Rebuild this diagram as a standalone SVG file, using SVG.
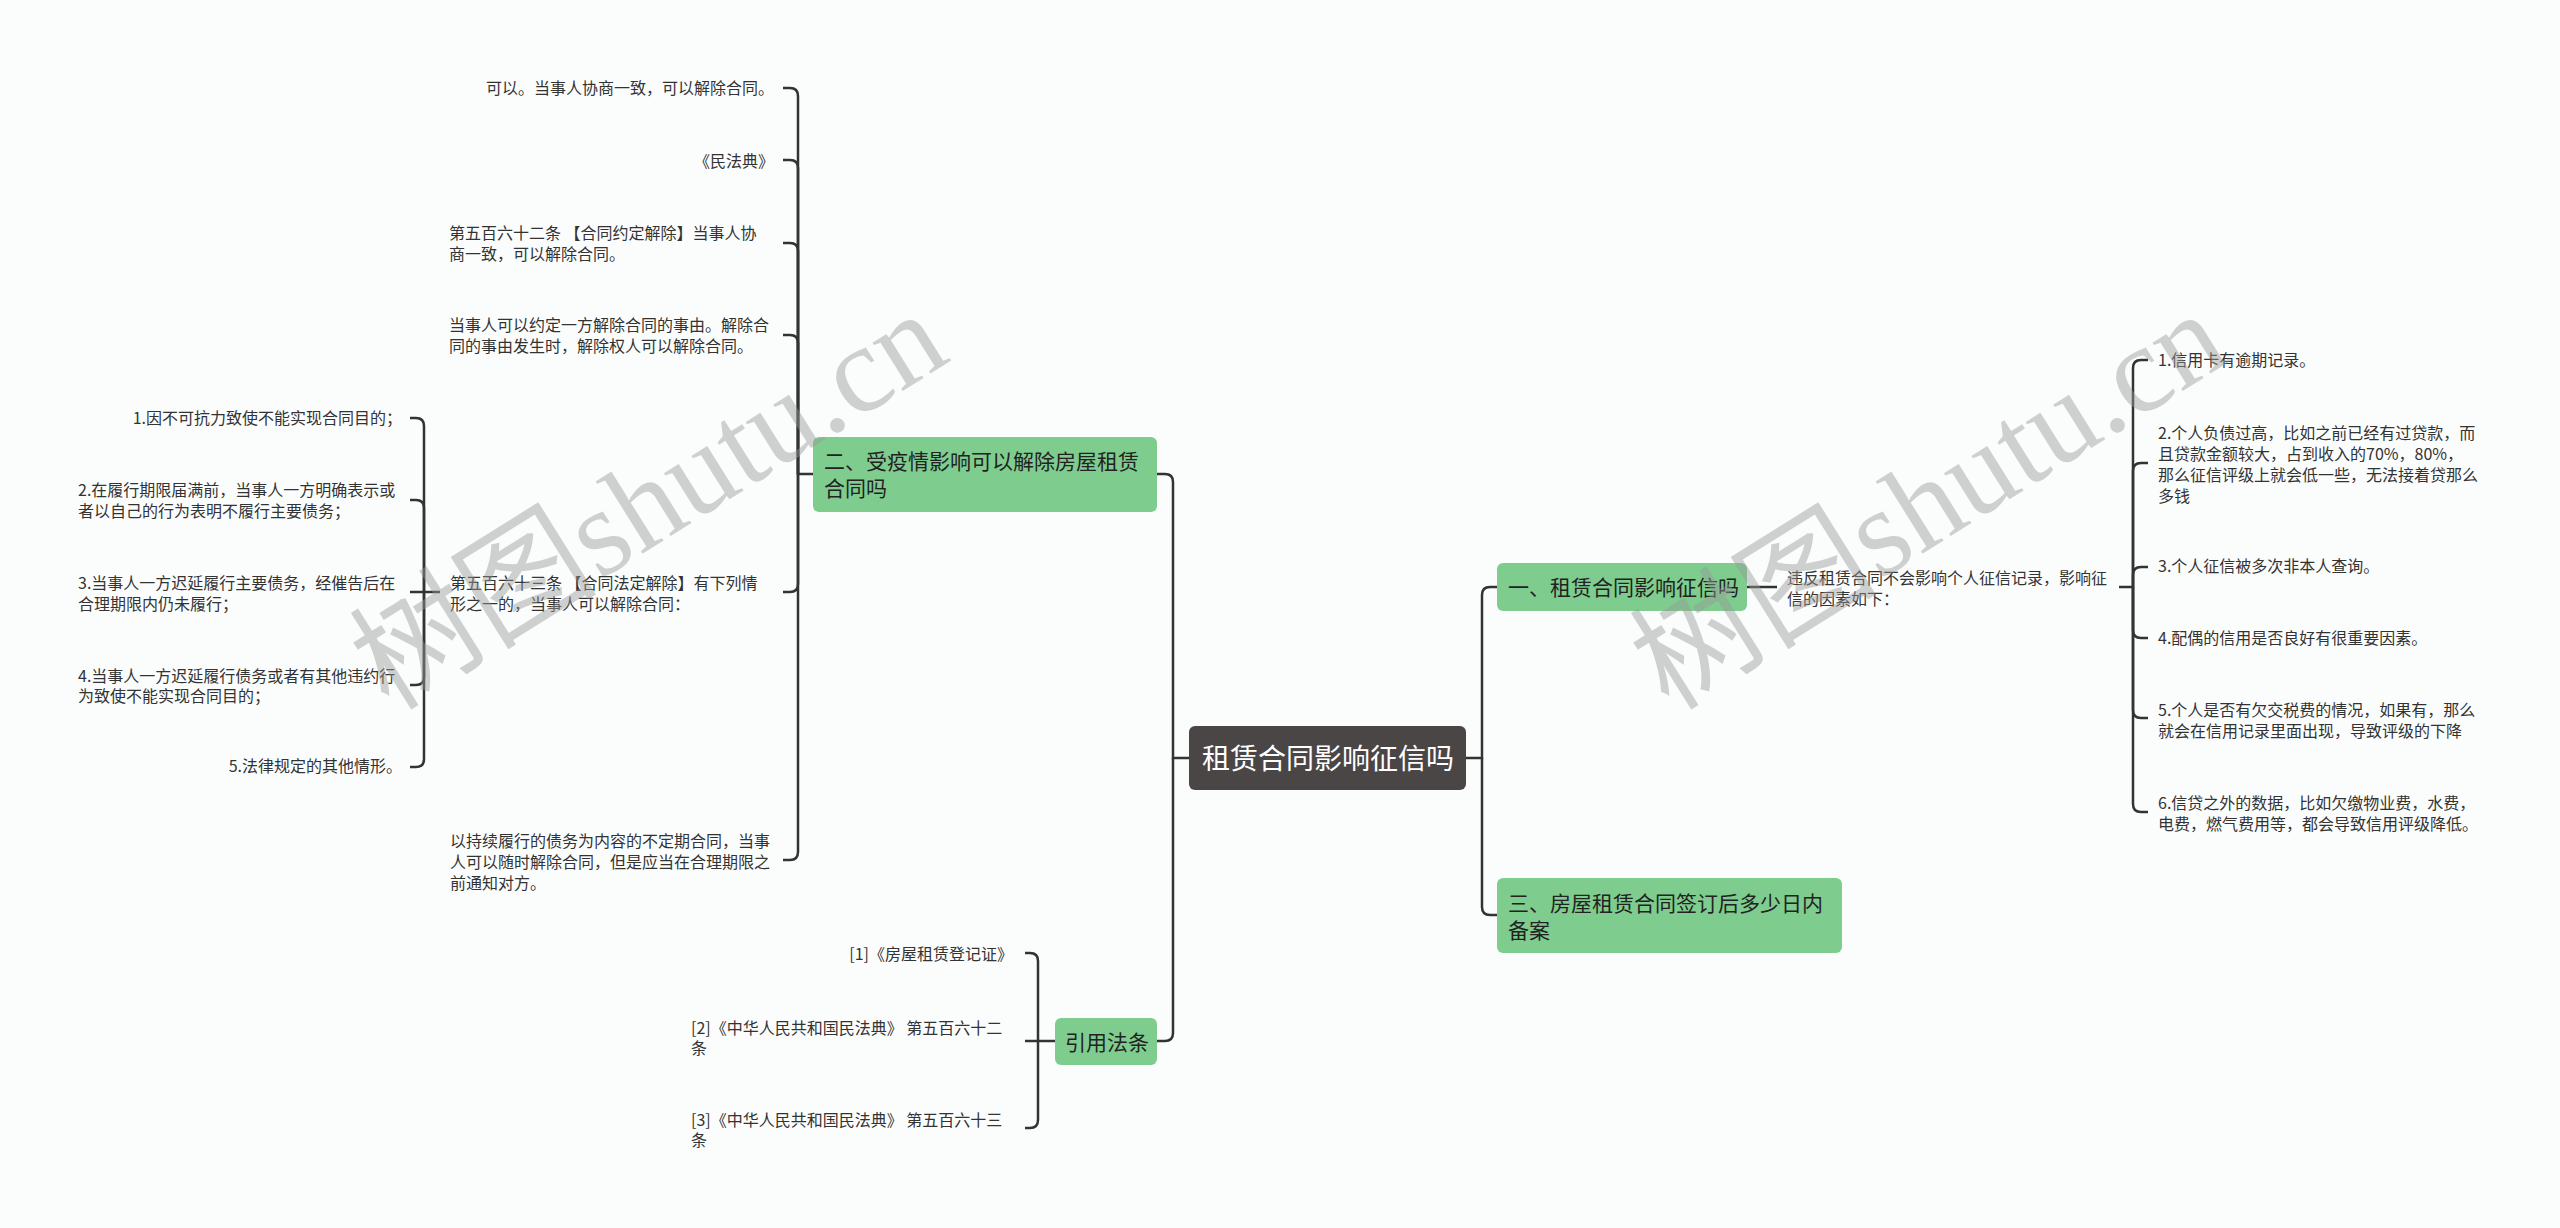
<svg xmlns="http://www.w3.org/2000/svg" width="2560" height="1228" viewBox="0 0 2560 1228">
<style>
.t{font-family:"Noto Sans CJK SC","Noto Sans",sans-serif;font-size:16px;fill:#333}
.n{font-family:"Noto Sans CJK SC","Noto Sans",sans-serif;font-size:21px;fill:#222}
.c{font-family:"Noto Sans CJK SC","Noto Sans",sans-serif;font-size:28px;fill:#fff}
.g{fill:#7ecd8f}
.e{text-anchor:end}
.wm{font-family:"Liberation Serif","Noto Sans CJK SC",serif;font-size:124px;fill:#999;opacity:.45}
#links path{fill:none;stroke:#333;stroke-width:2.5}
</style>
<rect width="2560" height="1228" fill="#fbfdfd"/>
<g id="links">
<path d="M1189 758H1173V482Q1173 474 1165 474H1157"/>
<path d="M1173 758V1033Q1173 1041 1165 1041H1157"/>
<path d="M1466 758H1482V595Q1482 587 1490 587H1497"/>
<path d="M1482 758V907Q1482 915 1490 915H1497"/>
<path d="M1747 587H1777"/>
<path d="M2119 587H2133V368Q2133 360 2141 360H2148"/>
<path d="M2133 587V471Q2133 463 2141 463H2148"/>
<path d="M2133 587V575Q2133 567 2141 567H2148"/>
<path d="M2133 587V630Q2133 638 2141 638H2148"/>
<path d="M2133 587V710Q2133 718 2141 718H2148"/>
<path d="M2133 587V804Q2133 812 2141 812H2148"/>
<path d="M813 474H798V96Q798 88 790 88H783"/>
<path d="M798 474V168Q798 160 790 160H783"/>
<path d="M798 474V251Q798 243 790 243H783"/>
<path d="M798 474V343Q798 335 790 335H783"/>
<path d="M798 474V584Q798 592 790 592H783"/>
<path d="M798 474V852Q798 860 790 860H783"/>
<path d="M440 592H410"/>
<path d="M424 592V426Q424 418 416 418H410"/>
<path d="M424 592V508Q424 500 416 500H410"/>
<path d="M424 592V677Q424 685 416 685H410"/>
<path d="M424 592V759Q424 767 416 767H410"/>
<path d="M1055 1041H1025"/>
<path d="M1038 1041V961Q1038 953 1030 953H1025"/>
<path d="M1038 1041V1120Q1038 1128 1030 1128H1025"/>
</g>
<g id="root">
<rect x="1189" y="726" width="277" height="64" rx="6" fill="#4b4646"/>
<text class="c" x="1202" y="769">租赁合同影响征信吗</text>
</g>
<g id="n2">
<rect class="g" x="813" y="437" width="344" height="75" rx="6"/>
<text class="n"><tspan x="824" y="469">二、受疫情影响可以解除房屋租赁</tspan><tspan x="824" y="496">合同吗</tspan></text>
</g>
<g id="n1">
<rect class="g" x="1497" y="563" width="250" height="48" rx="6"/>
<text class="n" x="1508" y="595">一、租赁合同影响征信吗</text>
</g>
<g id="n3">
<rect class="g" x="1497" y="878" width="345" height="75" rx="6"/>
<text class="n"><tspan x="1508" y="911">三、房屋租赁合同签订后多少日内</tspan><tspan x="1508" y="938">备案</tspan></text>
</g>
<g id="nref">
<rect class="g" x="1055" y="1018" width="102" height="47" rx="6"/>
<text class="n" x="1065" y="1050">引用法条</text>
</g>
<g id="n1a">
<text class="t"><tspan x="1787" y="584">违反租赁合同不会影响个人征信记录，影响征</tspan><tspan x="1787" y="605">信的因素如下：</tspan></text>
</g>
<g id="r1"><text class="t" x="2158" y="366">1.信用卡有逾期记录。</text></g>
<g id="r2"><text class="t"><tspan x="2158" y="439">2.个人负债过高，比如之前已经有过贷款，而</tspan><tspan x="2158" y="460">且贷款金额较大，占到收入的70%，80%，</tspan><tspan x="2158" y="481">那么征信评级上就会低一些，无法接着贷那么</tspan><tspan x="2158" y="502">多钱</tspan></text></g>
<g id="r3"><text class="t" x="2158" y="572">3.个人征信被多次非本人查询。</text></g>
<g id="r4"><text class="t" x="2158" y="644">4.配偶的信用是否良好有很重要因素。</text></g>
<g id="r5"><text class="t"><tspan x="2158" y="716">5.个人是否有欠交税费的情况，如果有，那么</tspan><tspan x="2158" y="737">就会在信用记录里面出现，导致评级的下降</tspan></text></g>
<g id="r6"><text class="t"><tspan x="2158" y="809">6.信贷之外的数据，比如欠缴物业费，水费，</tspan><tspan x="2158" y="830">电费，燃气费用等，都会导致信用评级降低。</tspan></text></g>
<g id="l1"><text class="t e" x="774" y="94">可以。当事人协商一致，可以解除合同。</text></g>
<g id="l2"><text class="t e" x="774" y="167">《民法典》</text></g>
<g id="l3"><text class="t"><tspan x="449" y="239">第五百六十二条 【合同约定解除】当事人协</tspan><tspan x="449" y="260">商一致，可以解除合同。</tspan></text></g>
<g id="l4"><text class="t"><tspan x="449" y="331">当事人可以约定一方解除合同的事由。解除合</tspan><tspan x="449" y="352">同的事由发生时，解除权人可以解除合同。</tspan></text></g>
<g id="l5"><text class="t"><tspan x="450" y="589">第五百六十三条 【合同法定解除】有下列情</tspan><tspan x="450" y="610">形之一的，当事人可以解除合同：</tspan></text></g>
<g id="l6"><text class="t"><tspan x="450" y="847">以持续履行的债务为内容的不定期合同，当事</tspan><tspan x="450" y="868">人可以随时解除合同，但是应当在合理期限之</tspan><tspan x="450" y="889">前通知对方。</tspan></text></g>
<g id="k1"><text class="t e" x="402" y="424">1.因不可抗力致使不能实现合同目的；</text></g>
<g id="k2"><text class="t"><tspan x="78" y="496">2.在履行期限届满前，当事人一方明确表示或</tspan><tspan x="78" y="517">者以自己的行为表明不履行主要债务；</tspan></text></g>
<g id="k3"><text class="t"><tspan x="78" y="589">3.当事人一方迟延履行主要债务，经催告后在</tspan><tspan x="78" y="610">合理期限内仍未履行；</tspan></text></g>
<g id="k4"><text class="t"><tspan x="78" y="682">4.当事人一方迟延履行债务或者有其他违约行</tspan><tspan x="78" y="702">为致使不能实现合同目的；</tspan></text></g>
<g id="k5"><text class="t e" x="402" y="772">5.法律规定的其他情形。</text></g>
<g id="f1"><text class="t e" x="1013" y="960">[1]《房屋租赁登记证》</text></g>
<g id="f2"><text class="t"><tspan x="691" y="1034">[2]《中华人民共和国民法典》 第五百六十二</tspan><tspan x="691" y="1054">条</tspan></text></g>
<g id="f3"><text class="t"><tspan x="691" y="1126">[3]《中华人民共和国民法典》 第五百六十三</tspan><tspan x="691" y="1146">条</tspan></text></g>
<g id="watermark">
<text class="wm" transform="translate(389 712) rotate(-32)">树图shutu.cn</text>
<text class="wm" transform="translate(1669 712) rotate(-32)">树图shutu.cn</text>
</g>
</svg>
